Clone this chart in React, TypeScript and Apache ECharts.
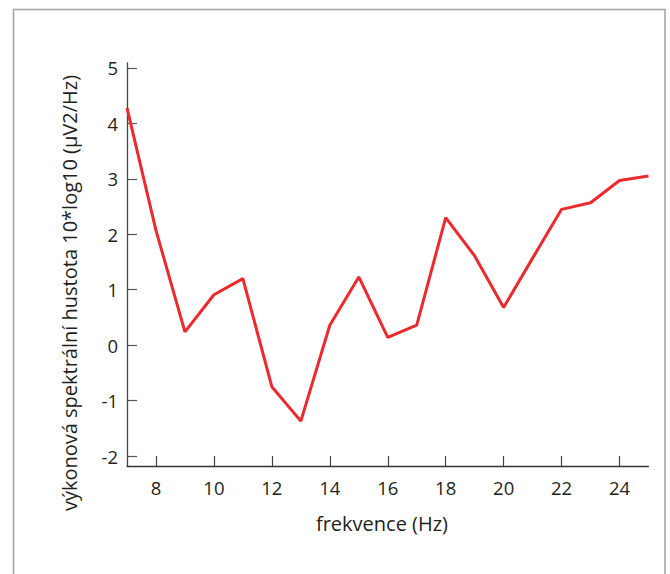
import React, { useEffect, useRef } from "react";
import * as echarts from "echarts";

const frequencies = [7, 8, 9, 10, 11, 12, 13, 14, 15, 16, 17, 18, 19, 20, 21, 22, 23, 24, 25];
const psdValues = [4.28, 2.07, 0.24, 0.91, 1.2, -0.75, -1.37, 0.36, 1.23, 0.14, 0.36, 2.3, 1.61, 0.68, 1.57, 2.45, 2.57, 2.97, 3.05];
const xTicks = [8, 10, 12, 14, 16, 18, 20, 22, 24];
const yTicks = [-2, -1, 0, 1, 2, 3, 4, 5];
const xName = "frekvence (Hz)";
const yName = "výkonová spektrální hustota 10*log10 (µV2/Hz)";

const FONT = "Open Sans";

export default function App() {
  const ref = useRef<HTMLDivElement>(null);
  useEffect(() => {
    document.body.style.margin = "0";
    if (!ref.current) return;
    const chart = echarts.init(ref.current, null, { renderer: "svg" });
    chart.setOption({
      animation: false,
      backgroundColor: "#ffffff",
      grid: { left: 127, right: 21.5, top: 63, bottom: 108, containLabel: false },
      xAxis: {
        type: "value",
        min: 7,
        max: 25,
        axisLine: { show: true, onZero: false, lineStyle: { color: "#333", width: 1.3 } },
        axisTick: { show: true, inside: true, length: 10, customValues: xTicks, lineStyle: { color: "#444", width: 1.2 } },
        axisLabel: { customValues: xTicks, margin: 12, color: "#231f20", fontSize: 18.5, fontFamily: FONT },
        splitLine: { show: false },
      },
      yAxis: {
        type: "value",
        min: -2.18,
        max: 5.09,
        axisLine: { show: true, onZero: false, lineStyle: { color: "#444", width: 1.3 } },
        axisTick: { show: true, inside: true, length: 10, customValues: yTicks, lineStyle: { color: "#555", width: 1.2 } },
        axisLabel: { customValues: yTicks, margin: 9, color: "#231f20", fontSize: 18.5, fontFamily: FONT },
        splitLine: { show: false },
      },
      graphic: [
        {
          type: "rect",
          shape: { x: 13.5, y: 9.5, width: 651.5, height: 600 },
          style: { fill: "none", stroke: "#a3a3a3", lineWidth: 1.5 },
          silent: true,
          z: -1,
        },
        {
          type: "text",
          x: 69,
          y: 293,
          rotation: Math.PI / 2,
          style: {
            text: yName,
            fill: "#231f20",
            fontSize: 20,
            fontFamily: FONT,
            align: "center",
            verticalAlign: "middle",
          },
        },
        {
          type: "text",
          x: 382,
          y: 523,
          style: {
            text: xName,
            fill: "#231f20",
            fontSize: 20,
            fontFamily: FONT,
            align: "center",
            verticalAlign: "middle",
          },
        },
      ],
      series: [
        {
          type: "line",
          data: frequencies.map((f, i) => [f, psdValues[i]]),
          showSymbol: false,
          symbol: "none",
          lineStyle: { color: "#ec2a2e", width: 3 },
          itemStyle: { color: "#ec2a2e" },
        },
      ],
    });
    return () => chart.dispose();
  }, []);
  return <div ref={ref} style={{ width: 670, height: 574 }} />;
}
